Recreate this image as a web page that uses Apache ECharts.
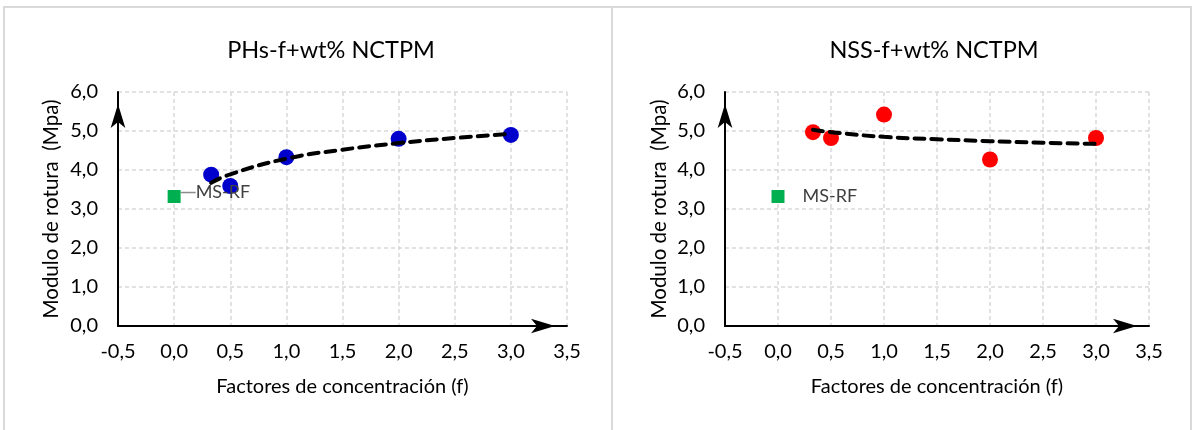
<!DOCTYPE html>
<html>
<head>
<meta charset="utf-8">
<script src="https://cdn.jsdelivr.net/npm/echarts@6/dist/echarts.min.js"></script>
<style>
  html, body { margin: 0; padding: 0; background: #fff; }
  #chart { width: 1192px; height: 430px; }
</style>
</head>
<body>
<div id="chart"></div>
<script>
// datos
const factores = [0.33, 0.5, 1, 2, 3];
const moduloPHs = [3.88, 3.59, 4.33, 4.80, 4.90];
const moduloNSS = [4.97, 4.82, 5.42, 4.27, 4.82];
const msRF = [0, 3.32];
const tendX = [0.33, 0.5, 1, 1.5, 2, 2.5, 3];
const tendPHs = [3.67, 3.89, 4.29, 4.52, 4.69, 4.82, 4.93];
const tendNSS = [5.03, 4.97, 4.85, 4.79, 4.74, 4.70, 4.67];
const titulos = ['PHs-f+wt% NCTPM', 'NSS-f+wt% NCTPM'];

const FONT = 'Lato';
const pares = (xs, ys) => xs.map((x, i) => [x, ys[i]]);
const coma = v => v.toFixed(1).replace('.', ',');

function ejeX(idx) {
  return {
    type: 'value', gridIndex: idx, min: -0.5, max: 3.5, interval: 0.5,
    name: 'Factores de concentración (f)', nameLocation: 'middle', nameGap: 51,
    nameTextStyle: { fontFamily: FONT, fontSize: 20, color: '#000' },
    axisLine: { onZero: false, lineStyle: { color: '#000', width: 2 },
      symbol: ['none', 'arrow'], symbolSize: [11, 24], symbolOffset: [0, -12] },
    axisTick: { show: false },
    axisLabel: { fontFamily: FONT, fontSize: 20, color: '#000', margin: 16, formatter: coma },
    splitLine: { show: true, lineStyle: { color: '#d9d9d9', width: 1.5, type: [4, 3] } }
  };
}
function ejeY(idx, gap) {
  return {
    type: 'value', gridIndex: idx, min: 0, max: 6, interval: 1,
    name: 'Modulo de rotura  (Mpa)', nameLocation: 'middle', nameGap: gap,
    nameTextStyle: { fontFamily: FONT, fontSize: 20.5, color: '#000' },
    axisLine: { show: true, onZero: false, lineStyle: { color: '#000', width: 2 },
      symbol: ['none', 'arrow'], symbolSize: [11, 24], symbolOffset: [0, -12] },
    axisTick: { show: false },
    axisLabel: { fontFamily: FONT, fontSize: 20, color: '#000', margin: 20, formatter: coma },
    splitLine: { show: true, lineStyle: { color: '#d9d9d9', width: 1.5, type: [4, 3] } }
  };
}

function puntoRef(idx, conLinea) {
  return {
    type: 'scatter', xAxisIndex: idx, yAxisIndex: idx,
    data: [msRF], symbol: 'rect', symbolSize: 13,
    itemStyle: { color: '#00B050', opacity: 1 },
    label: { show: true, formatter: 'MS-RF', position: 'right', distance: conLinea ? 15 : 18,
      fontFamily: FONT, fontSize: 18, color: '#404040' },
    labelLine: { show: conLinea, lineStyle: { color: '#8c8c8c', width: 1.5 } },
    labelLayout: conLinea ? { dy: -4 } : null,
    z: 3
  };
}

let myChart = echarts.init(document.getElementById('chart'));
myChart.setOption({
  animation: false,
  backgroundColor: '#fff',
  title: [
    { text: titulos[0], left: 326, top: 33, textAlign: 'center',
      textStyle: { fontFamily: FONT, fontSize: 23.5, fontWeight: 'normal', color: '#000' } },
    { text: titulos[1], left: 929, top: 33, textAlign: 'center',
      textStyle: { fontFamily: FONT, fontSize: 23.5, fontWeight: 'normal', color: '#000' } }
  ],
  graphic: [
    { type: 'rect', shape: { x: 4, y: 7, width: 608, height: 450 }, silent: true,
      style: { fill: 'none', stroke: '#d9d9d9', lineWidth: 2 } },
    { type: 'rect', shape: { x: 612, y: 7, width: 579, height: 450 }, silent: true,
      style: { fill: 'none', stroke: '#d9d9d9', lineWidth: 2 } }
  ],
  grid: [
    { left: 118, top: 92, width: 449, height: 234 },
    { left: 725, top: 92, width: 424, height: 234 }
  ],
  xAxis: [ejeX(0), ejeX(1)],
  yAxis: [ejeY(0, 56), ejeY(1, 55)],
  series: [
    { type: 'scatter', xAxisIndex: 0, yAxisIndex: 0, data: pares(factores, moduloPHs),
      symbolSize: 16, itemStyle: { color: '#0000CC', opacity: 1 }, z: 3 },
    { type: 'line', xAxisIndex: 0, yAxisIndex: 0, data: pares(tendX, tendPHs),
      smooth: true, showSymbol: false, symbol: 'none',
      lineStyle: { color: '#000', width: 4, type: [10, 7], cap: 'round' }, z: 4 },
    puntoRef(0, true),
    { type: 'scatter', xAxisIndex: 1, yAxisIndex: 1, data: pares(factores, moduloNSS),
      symbolSize: 16, itemStyle: { color: '#FF0000', opacity: 1 }, z: 3 },
    { type: 'line', xAxisIndex: 1, yAxisIndex: 1, data: pares(tendX, tendNSS),
      smooth: true, showSymbol: false, symbol: 'none',
      lineStyle: { color: '#000', width: 4, type: [10, 7], cap: 'round' }, z: 4 },
    puntoRef(1, false)
  ]
});
</script>
</body>
</html>
